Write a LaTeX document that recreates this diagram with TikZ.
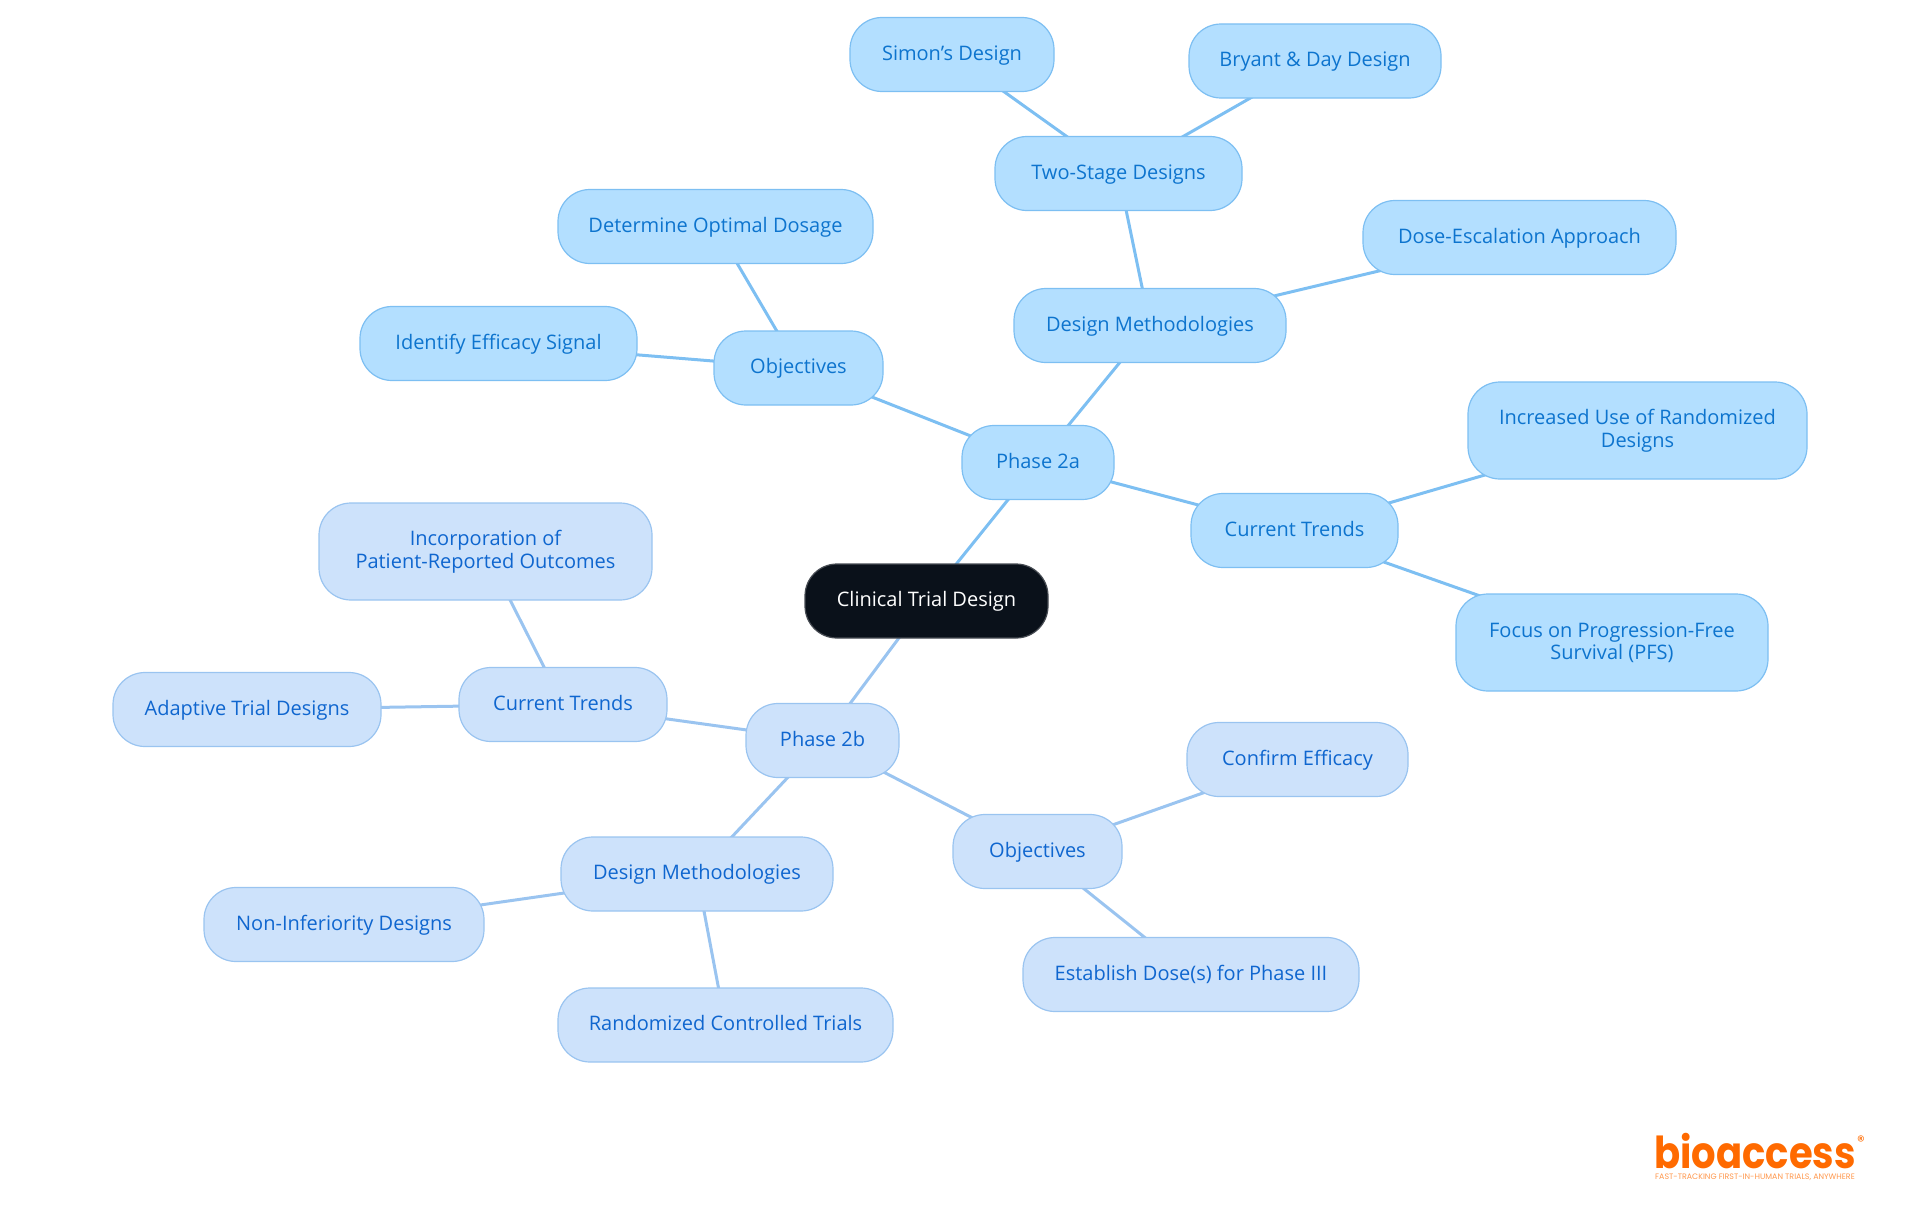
\documentclass[tikz,border=0pt]{standalone}
\usepackage{fontspec}
\setmainfont{Open Sans}
\newfontfamily\logofont{Poppins}
\usetikzlibrary{positioning}
\usetikzlibrary{backgrounds}

\definecolor{rootfill}{HTML}{0A111A}
\definecolor{afill}{HTML}{B3DFFF}
\definecolor{aline}{HTML}{7DBFF2}
\definecolor{atext}{HTML}{0D74CE}
\definecolor{bfill}{HTML}{CDE2FB}
\definecolor{bline}{HTML}{9AC4F0}
\definecolor{btext}{HTML}{0F66CF}
\definecolor{logoorange}{HTML}{FF6A00}

\begin{document}
\begin{tikzpicture}[on grid]
    \tikzset{block/.style= {draw, rectangle, rounded corners=32pt, align=center, line width=1.2pt, minimum height=74pt, text height=16pt, text depth=5pt, font=\fontsize{20}{22.5}\selectfont},}
    \tikzset{twolines/.style= {minimum height=97pt, text height=, text depth=},}
    \tikzset{rootbox/.style= {block, fill=rootfill, draw=rootfill!75!white, text=white},}
    \tikzset{ablock/.style= {block, fill=afill, draw=aline, text=atext},}
    \tikzset{bblock/.style= {block, fill=bfill, draw=bline, text=btext},}
    \tikzset{aedge/.style= {draw=aline, line width=3pt},}
    \tikzset{bedge/.style= {draw=bline, line width=3pt},}

    \useasboundingbox (0,0) rectangle (1920pt,-1215pt);

    \node [rootbox, minimum width=243pt] (root) at (926.5pt,-601pt) {Clinical Trial Design};

    \node [ablock, minimum width=152pt, above right=138.5pt and 111.5pt of root] (phasea) {Phase 2a};
    \node [ablock, minimum width=169pt, above left=94.5pt and 239.5pt of phasea] (obja) {Objectives};
    \node [ablock, minimum width=272pt, above right=137pt and 112pt of phasea] (designa) {Design Methodologies};
    \node [ablock, minimum width=207pt, below right=68pt and 256.5pt of phasea] (trenda) {Current Trends};
    \node [ablock, minimum width=315pt, above left=141.5pt and 83pt of obja] (dosage) {Determine Optimal Dosage};
    \node [ablock, minimum width=277pt, above left=24.5pt and 300pt of obja] (signal) {Identify Efficacy Signal};
    \node [ablock, minimum width=247pt, above left=152pt and 31.5pt of designa] (twostage) {Two-Stage Designs};
    \node [ablock, minimum width=313pt, above right=88pt and 369.5pt of designa] (escal) {Dose-Escalation Approach};
    \node [ablock, minimum width=204pt, above left=119pt and 166.5pt of twostage] (simon) {Simon's Design};
    \node [ablock, minimum width=252pt, above right=112.5pt and 196.5pt of twostage] (bryant) {Bryant \& Day Design};
    \node [ablock, twolines, minimum width=339pt, above right=100pt and 343pt of trenda] (randuse) {Increased Use of Randomized\\Designs};
    \node [ablock, twolines, minimum width=312pt, below right=112pt and 317.5pt of trenda] (pfs) {Focus on Progression-Free\\Survival (PFS)};

    \node [bblock, minimum width=153pt, below left=139.5pt and 104pt of root] (phaseb) {Phase 2b};
    \node [bblock, minimum width=208pt, above left=36pt and 259.5pt of phaseb] (trendb) {Current Trends};
    \node [bblock, minimum width=169pt, below right=111pt and 215pt of phaseb] (objb) {Objectives};
    \node [bblock, minimum width=272pt, below left=133.5pt and 125.5pt of phaseb] (designb) {Design Methodologies};
    \node [bblock, twolines, minimum width=333pt, above left=153pt and 77.5pt of trendb] (patient) {Incorporation of\\Patient-Reported Outcomes};
    \node [bblock, minimum width=268pt, below left=5pt and 316pt of trendb] (adaptive) {Adaptive Trial Designs};
    \node [bblock, minimum width=221pt, above right=92pt and 260pt of objb] (confirm) {Confirm Efficacy};
    \node [bblock, minimum width=336pt, below right=123pt and 153.5pt of objb] (establish) {Establish Dose(s) for Phase III};
    \node [bblock, minimum width=280pt, below left=50.5pt and 353pt of designb] (noninf) {Non-Inferiority Designs};
    \node [bblock, minimum width=335pt, below right=151pt and 28.5pt of designb] (rct) {Randomized Controlled Trials};

    \node [text=logoorange, inner sep=0pt, xscale=.875, transform shape, font=\logofont\bfseries\fontsize{44}{44}\selectfont] (logo) at (1755pt,-1151pt) {bioaccess};
    \node [text=logoorange, inner sep=0pt, font=\logofont\fontsize{15}{15}\selectfont] (regmark) at (1861pt,-1141pt) {®};
    \node [text=logoorange!70!white, inner sep=0pt, font=\logofont\fontsize{7.9}{8}\selectfont] (tagline) at (1755pt,-1177pt) {FAST-TRACKING FIRST-IN-HUMAN TRIALS, ANYWHERE};

    \begin{scope}[on background layer]
    \path[aedge]
                (root.center) edge (phasea.center)
                (phasea.center) edge (obja.center)
                (phasea.center) edge (designa.center)
                (phasea.center) edge (trenda.center)
                (obja.center) edge (dosage.center)
                (obja.center) edge (signal.center)
                (designa.center) edge (twostage.center)
                (designa.center) edge (escal.center)
                (twostage.center) edge (simon.center)
                (twostage.center) edge (bryant.center)
                (trenda.center) edge (randuse.center)
                (trenda.center) edge (pfs.center)
                ;
    \path[bedge]
                (root.center) edge (phaseb.center)
                (phaseb.center) edge (trendb.center)
                (phaseb.center) edge (objb.center)
                (phaseb.center) edge (designb.center)
                (trendb.center) edge (patient.center)
                (trendb.center) edge (adaptive.center)
                (objb.center) edge (confirm.center)
                (objb.center) edge (establish.center)
                (designb.center) edge (noninf.center)
                (designb.center) edge (rct.center)
                ;
    \end{scope}
\end{tikzpicture}
\end{document}
